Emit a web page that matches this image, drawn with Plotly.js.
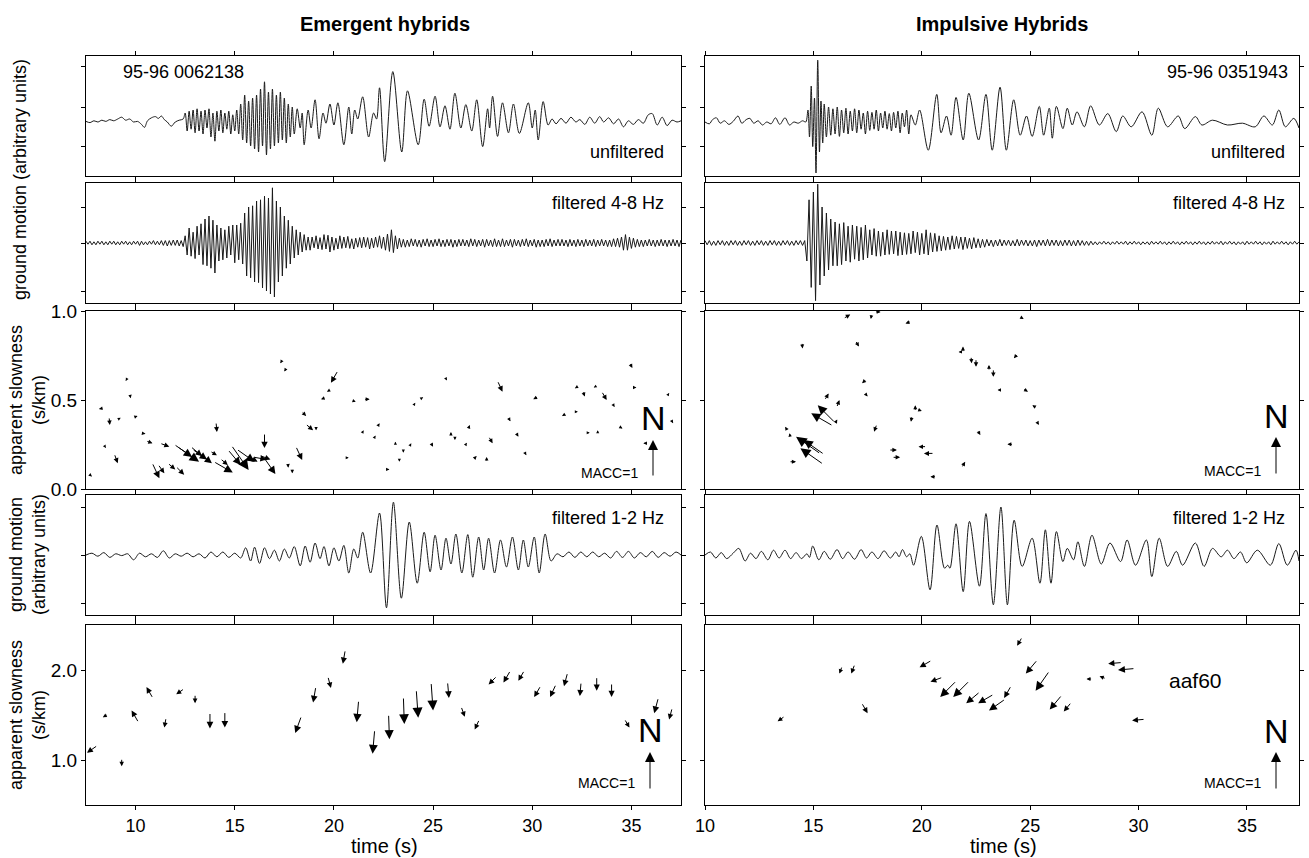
<!DOCTYPE html>
<html><head><meta charset="utf-8">
<script src="https://cdn.plot.ly/plotly-3.0.1.min.js"></script>
<style>html,body{margin:0;padding:0;background:#fff}#chart{width:1309px;height:858px}</style>
</head><body><div id="chart"></div>
<script>
// ---------------- DATA ----------------
const columnTitles = ['Emergent hybrids', 'Impulsive Hybrids'];
const eventIds = ['95-96 0062138', '95-96 0351943'];
const timeTicks = [10, 15, 20, 25, 30, 35];
const slowTicksHi = [0, 0.5, 1.0];
const slowTicksLo = [1.0, 2.0];

// Emergent: unfiltered trace, extrema [time s, amplitude]
const emRaw = [[7.5,-0.09],[7.7,-0.11],[7.9,-0.08],[8.1,-0.1],[8.3,-0.07],[8.5,-0.09],[8.7,-0.06],[8.9,-0.08],[9.1,-0.05],[9.3,-0.02],[9.5,-0.07],[9.7,-0.05],[9.9,-0.1],[10.1,-0.09],[10.3,-0.14],[10.45,-0.19],[10.6,-0.08],[10.8,-0.03],[11.0,-0.01],[11.15,-0.04],[11.3,0.0],[11.45,-0.06],[11.6,-0.1],[11.8,-0.17],[12.0,-0.1],[12.2,-0.07],[12.4,-0.05],
[12.5,0.05],[12.6,-0.25],[12.7,0.08],[12.8,-0.22],[12.9,0.1],[13.0,-0.28],[13.1,0.12],[13.2,-0.25],[13.3,0.08],[13.4,-0.3],[13.5,0.1],[13.6,-0.2],[13.7,0.12],[13.8,-0.35],[13.9,0.05],[14.0,-0.42],[14.1,0.08],[14.2,-0.25],[14.3,0.1],[14.4,-0.28],[14.5,0.05],[14.6,-0.22],[14.7,0.08],[14.8,-0.3],[14.9,0.02],[15.0,-0.25],[15.1,0.1],[15.2,-0.3],[15.3,0.2],[15.4,-0.4],[15.5,0.35],[15.6,-0.45],[15.7,0.25],[15.8,-0.5],[15.9,0.3],[16.0,-0.55],[16.1,0.35],[16.2,-0.6],[16.3,0.45],[16.4,-0.5],[16.5,0.57],[16.6,-0.65],[16.7,0.4],[16.8,-0.55],[16.9,0.45],[17.0,-0.5],[17.1,0.35],[17.2,-0.45],[17.3,0.4],[17.4,-0.4],[17.5,0.3],[17.6,-0.45],[17.7,0.2],[17.8,-0.35],[17.9,0.15],[18.0,-0.3],[18.15,0.12],[18.3,-0.2],[18.4,0.05],
[18.5,-0.48],[18.7,0.1],[18.85,-0.2],[19.05,0.27],[19.25,-0.38],[19.45,0.05],[19.6,-0.12],[19.8,0.2],[20.0,-0.15],[20.2,0.22],[20.5,-0.48],[20.75,0.15],[20.9,-0.3],[21.05,0.1],[21.2,-0.05],[21.45,0.32],[21.75,-0.35],[22.0,0.05],[22.15,-0.05],[22.3,0.47],[22.56,-0.76],[22.97,0.74],[23.42,-0.6],[23.71,0.42],[24.25,-0.48],[24.55,0.28],[24.8,-0.17],[25.1,0.33],[25.35,-0.18],[25.6,0.17],[25.85,-0.22],[26.1,0.38],[26.4,-0.2],[26.65,0.19],[26.95,-0.25],[27.2,0.27],[27.5,-0.51],[27.75,0.12],[27.85,-0.2],[28.0,0.33],[28.25,-0.34],[28.5,0.22],[28.8,-0.28],[29.05,0.2],[29.35,-0.29],[29.8,0.22],[30.0,-0.2],[30.15,0.1],[30.3,-0.4],[30.55,0.24],[30.8,-0.15],[31.0,-0.05],[31.2,-0.13],[31.45,-0.04],[31.7,-0.12],[31.95,-0.02],[32.2,-0.1],[32.4,-0.06],[32.65,-0.14],[32.9,-0.02],[33.15,-0.12],[33.4,-0.01],[33.6,-0.1],[33.85,-0.03],[34.1,-0.13],[34.35,-0.05],[34.6,-0.18],[34.85,-0.08],[35.1,-0.14],[35.35,-0.06],[35.6,-0.12],[35.85,0.02],[36.05,0.04],[36.3,-0.15],[36.55,-0.02],[36.8,-0.16],[37.05,-0.07],[37.3,-0.1],[37.5,-0.08]];

// Emergent: 4-8 Hz trace, successive half-cycle values every 0.1 s from 7.5 s
const emHighStart = 7.5;
const emHighStep = 0.1;
const emHigh = [0.03,-0.02,0.03,-0.03,0.02,-0.03,0.03,-0.02,0.03,-0.03,
0.02,-0.03,0.03,-0.02,0.03,-0.03,0.02,-0.03,0.03,-0.02,
0.03,-0.03,0.02,-0.03,0.03,-0.02,0.03,-0.04,0.03,-0.03,
0.02,-0.03,0.03,-0.02,0.04,-0.03,0.03,-0.03,0.04,-0.04,
0.04,-0.05,0.04,-0.04,0.05,-0.04,0.05,-0.05,0.04,-0.06,
0.12,-0.2,0.25,-0.22,0.18,-0.26,0.28,-0.2,0.32,-0.36,
0.4,-0.38,0.45,-0.42,0.38,-0.5,0.3,-0.3,0.25,-0.28,
0.22,-0.25,0.28,-0.2,0.3,-0.33,0.3,-0.28,0.33,-0.35,
0.5,-0.55,0.6,-0.58,0.62,-0.65,0.7,-0.66,0.72,-0.75,
0.78,-0.8,0.75,-0.85,0.92,-0.9,0.7,-0.65,0.6,-0.55,
0.45,-0.42,0.38,-0.35,0.28,-0.25,0.22,-0.2,0.18,-0.15,
0.14,-0.12,0.1,-0.12,0.1,-0.08,0.12,-0.1,0.09,-0.11,
0.14,-0.1,0.13,-0.15,0.1,-0.12,0.08,-0.1,0.12,-0.09,
0.1,-0.08,0.11,-0.09,0.07,-0.1,0.08,-0.07,0.09,-0.08,
0.1,-0.07,0.09,-0.1,0.08,-0.08,0.1,-0.07,0.12,-0.09,
0.1,-0.12,0.15,-0.14,0.22,-0.16,0.12,-0.1,0.08,-0.07,
0.06,-0.07,0.05,-0.06,0.07,-0.05,0.06,-0.06,0.05,-0.07,
0.06,-0.05,0.07,-0.06,0.05,-0.06,0.06,-0.05,0.07,-0.06,
0.05,-0.06,0.06,-0.05,0.06,-0.07,0.05,-0.06,0.06,-0.05,
0.06,-0.05,0.05,-0.06,0.07,-0.05,0.06,-0.06,0.05,-0.05,
0.06,-0.07,0.06,-0.05,0.05,-0.06,0.07,-0.06,0.05,-0.06,
0.07,-0.06,0.05,-0.05,0.06,-0.07,0.06,-0.05,0.05,-0.06,
0.06,-0.05,0.07,-0.06,0.05,-0.05,0.06,-0.07,0.05,-0.06,
0.05,-0.06,0.06,-0.05,0.07,-0.06,0.05,-0.05,0.06,-0.05,
0.06,-0.05,0.05,-0.06,0.06,-0.05,0.05,-0.06,0.06,-0.05,
0.05,-0.06,0.06,-0.05,0.05,-0.05,0.06,-0.06,0.05,-0.05,
0.06,-0.05,0.05,-0.06,0.05,-0.06,0.07,-0.06,0.08,-0.07,
0.1,-0.12,0.14,-0.12,0.1,-0.09,0.08,-0.07,0.06,-0.06,
0.05,-0.06,0.05,-0.05,0.06,-0.05,0.05,-0.06,0.05,-0.05,
0.06,-0.05,0.05,-0.06,0.05,-0.05,0.06,-0.05,0.05,-0.06,0.05];

// Emergent: 1-2 Hz trace, extrema [time s, amplitude]
const emLow = [[7.5,0.0],[7.8,0.03],[8.1,-0.02],[8.4,0.04],[8.7,-0.04],[9.0,0.02],[9.3,-0.01],[9.6,0.02],[9.9,-0.08],[10.2,0.03],[10.5,-0.03],[10.8,0.02],[11.1,-0.04],[11.4,0.07],[11.7,-0.05],[12.0,0.02],[12.3,-0.02],[12.6,0.03],[12.9,-0.03],[13.2,0.02],[13.5,-0.05],[13.8,0.05],[14.1,-0.03],[14.4,0.05],[14.7,-0.04],[15.0,0.03],
[15.3,-0.05],[15.55,0.12],[15.8,-0.1],[16.0,0.13],[16.25,-0.14],[16.5,0.12],[16.75,-0.06],[17.0,0.08],[17.25,-0.1],[17.5,0.1],[17.75,-0.05],[18.0,0.14],[18.3,-0.18],[18.55,0.15],[18.8,-0.12],[19.05,0.2],[19.3,-0.06],[19.5,0.14],[19.75,-0.18],[20.0,0.12],[20.25,-0.1],[20.5,0.16],[20.75,-0.3],[21.0,0.1],[21.2,-0.05],[21.45,0.38],[21.85,-0.3],[22.3,0.7],[22.65,-0.88],[23.0,0.88],[23.4,-0.72],[23.8,0.55],[24.2,-0.47],[24.55,0.38],[24.85,-0.28],[25.1,0.33],[25.4,-0.25],[25.65,0.28],[25.9,-0.15],[26.15,0.35],[26.45,-0.3],[26.75,0.34],[27.0,-0.37],[27.3,0.3],[27.55,-0.25],[27.8,0.28],[28.1,-0.3],[28.4,0.25],[28.7,-0.2],[29.0,0.3],[29.3,-0.25],[29.55,0.25],[29.8,-0.2],[30.1,0.3],[30.35,-0.3],[30.65,0.35],[30.95,-0.1],[31.25,0.02],[31.55,-0.03],[31.85,0.05],[32.15,-0.04],[32.45,0.05],[32.75,-0.03],[33.05,0.05],[33.35,-0.03],[33.65,0.03],[33.95,-0.05],[34.25,0.06],[34.55,-0.04],[34.85,0.06],[35.15,-0.05],[35.45,0.04],[35.75,-0.03],[36.05,0.06],[36.35,-0.04],[36.65,0.04],[36.95,-0.02],[37.25,0.05],[37.5,0.0]];

// Impulsive: unfiltered trace, extrema [time s, amplitude]
const imRaw = [[10.0,-0.1],[10.2,-0.13],[10.35,-0.06],[10.53,-0.03],[10.7,-0.12],[10.9,-0.08],[11.1,-0.14],[11.3,-0.09],[11.52,0.0],[11.7,-0.12],[11.9,-0.06],[12.07,-0.04],[12.25,-0.12],[12.45,-0.08],[12.65,-0.15],[12.85,-0.1],[13.05,-0.13],[13.25,-0.03],[13.45,-0.14],[13.69,-0.03],[13.9,-0.15],[14.1,-0.1],[14.3,-0.12],[14.5,-0.08],[14.65,-0.1],
[14.75,0.1],[14.82,-0.35],[14.9,0.5],[14.97,-0.51],[15.05,0.3],[15.12,-0.95],[15.2,0.93],[15.28,-0.6],[15.35,0.25],[15.43,-0.45],[15.5,0.2],
[15.6,-0.35],[15.7,0.15],[15.8,-0.32],[15.9,0.12],[16.0,-0.3],[16.1,0.15],[16.2,-0.34],[16.3,0.1],[16.4,-0.28],[16.5,0.13],[16.6,-0.3],[16.7,0.08],[16.8,-0.25],[16.9,0.12],[17.0,-0.28],[17.1,0.1],[17.2,-0.22],[17.3,0.05],[17.4,-0.3],[17.5,0.08],[17.6,-0.24],[17.7,0.06],[17.8,-0.22],[17.9,0.1],[18.0,-0.25],[18.1,0.05],[18.2,-0.2],[18.3,0.08],[18.4,-0.22],[18.5,0.04],[18.6,-0.25],[18.7,0.06],[18.8,-0.2],[18.9,0.08],[19.0,-0.28],[19.1,0.05],[19.2,-0.18],[19.3,0.1],[19.4,-0.3],[19.5,0.02],
[19.7,-0.15],[19.9,0.1],[20.3,-0.57],[20.69,0.36],[20.89,-0.28],[21.14,0.0],[21.35,-0.32],[21.58,0.31],[21.91,-0.4],[22.17,0.38],[22.62,-0.4],[22.96,0.36],[23.25,-0.57],[23.61,0.48],[23.9,-0.57],[24.24,0.27],[24.54,-0.32],[24.83,0.0],[25.09,-0.34],[25.42,0.16],[25.62,-0.32],[25.88,0.13],[26.02,-0.37],[26.21,0.16],[26.51,-0.21],[26.71,0.13],[26.94,-0.15],[27.16,0.07],[27.5,-0.18],[27.79,0.17],[28.19,-0.15],[28.58,0.04],[28.97,-0.26],[29.27,0.0],[29.66,-0.18],[30.16,0.07],[30.61,-0.32],[30.91,0.13],[31.34,-0.18],[31.83,0.0],[32.13,-0.21],[32.62,-0.01],[32.92,-0.15],[33.41,-0.07],[34.1,-0.15],[34.79,-0.12],[35.38,-0.18],[35.78,0.0],[36.17,-0.15],[36.47,0.1],[36.77,-0.18],[37.16,-0.04],[37.4,-0.2]];

// Impulsive: 4-8 Hz trace, successive half-cycle values every 0.1 s from 10 s
const imHighStart = 10.0;
const imHighStep = 0.1;
const imHigh = [0.04,-0.03,0.04,-0.04,0.03,-0.04,0.04,-0.03,0.04,-0.04,
0.03,-0.04,0.04,-0.03,0.04,-0.04,0.03,-0.04,0.04,-0.03,
0.04,-0.04,0.03,-0.04,0.04,-0.03,0.04,-0.04,0.03,-0.04,
0.04,-0.03,0.04,-0.04,0.03,-0.04,0.04,-0.03,0.04,-0.04,
0.03,-0.04,0.04,-0.03,0.04,-0.04,0.04,-0.3,0.72,-0.74,
0.85,-0.96,0.98,-0.7,0.6,-0.55,0.5,-0.45,0.4,-0.38,
0.35,-0.38,0.32,-0.36,0.34,-0.3,0.28,-0.32,0.3,-0.27,
0.28,-0.3,0.26,-0.28,0.3,-0.25,0.22,-0.2,0.24,-0.22,
0.2,-0.22,0.18,-0.2,0.22,-0.19,0.2,-0.18,0.2,-0.21,
0.18,-0.2,0.17,-0.19,0.16,-0.18,0.2,-0.16,0.18,-0.2,
0.16,-0.18,0.22,-0.2,0.17,-0.15,0.16,-0.14,0.12,-0.13,
0.11,-0.12,0.1,-0.11,0.12,-0.1,0.11,-0.09,0.1,-0.11,
0.1,-0.09,0.08,-0.1,0.09,-0.08,0.07,-0.08,0.06,-0.07,
0.06,-0.05,0.05,-0.06,0.05,-0.05,0.06,-0.05,0.05,-0.04,
0.05,-0.05,0.04,-0.05,0.06,-0.05,0.05,-0.04,0.05,-0.05,
0.04,-0.05,0.05,-0.06,0.05,-0.04,0.05,-0.05,0.06,-0.05,
0.05,-0.04,0.05,-0.05,0.04,-0.05,0.05,-0.04,0.05,-0.05,
0.04,-0.05,0.05,-0.04,0.04,-0.04,0.03,-0.04,0.03,-0.03,
0.02,-0.03,0.02,-0.02,0.03,-0.02,0.02,-0.03,0.02,-0.02,
0.03,-0.02,0.02,-0.02,0.03,-0.03,0.02,-0.02,0.03,-0.02,
0.02,-0.03,0.02,-0.02,0.02,-0.03,0.03,-0.02,0.02,-0.02,
0.03,-0.02,0.02,-0.03,0.02,-0.02,0.03,-0.02,0.02,-0.03,
0.02,-0.02,0.03,-0.02,0.02,-0.03,0.02,-0.02,0.03,-0.02,
0.02,-0.03,0.02,-0.02,0.03,-0.02,0.02,-0.02,0.03,-0.03,
0.02,-0.02,0.03,-0.02,0.02,-0.03,0.02,-0.02,0.02,-0.03,
0.03,-0.02,0.02,-0.02,0.03,-0.02,0.02,-0.03,0.02,-0.02,
0.02,-0.03,0.03,-0.02,0.02,-0.02,0.03,-0.02,0.02,-0.03,
0.02,-0.02,0.03,-0.02,0.02];

// Impulsive: 1-2 Hz trace, extrema [time s, amplitude]
const imLow = [[10.0,0.0],[10.25,0.05],[10.5,-0.05],[10.75,0.04],[11.0,-0.06],[11.3,0.03],[11.56,0.11],[11.85,-0.1],[12.1,0.03],[12.35,-0.06],[12.6,0.06],[12.9,-0.08],[13.16,0.08],[13.42,-0.05],[13.69,0.08],[13.95,-0.06],[14.2,0.04],[14.45,-0.06],[14.7,0.02],[14.82,-0.04],[14.97,0.15],[15.25,-0.08],[15.5,0.06],[15.78,-0.07],[16.09,0.09],[16.35,-0.06],[16.6,0.05],[16.9,-0.07],[17.2,0.09],[17.45,-0.05],[17.7,0.05],[17.98,-0.06],[18.26,0.07],[18.55,-0.05],[18.8,0.05],[18.95,-0.03],[19.11,0.09],[19.3,-0.03],[19.45,0.02],[19.62,-0.17],[19.98,0.31],[20.38,-0.58],[20.7,0.5],[21.05,-0.22],[21.2,-0.17],[21.3,-0.22],[21.58,0.52],[21.91,-0.61],[22.2,0.56],[22.66,-0.52],[22.96,0.69],[23.3,-0.83],[23.65,0.8],[23.95,-0.83],[24.26,0.58],[24.63,-0.19],[25.09,0.28],[25.45,-0.47],[25.7,0.42],[25.96,-0.47],[26.21,0.39],[26.51,-0.11],[26.71,0.11],[27.0,-0.08],[27.2,0.22],[27.5,-0.19],[27.85,0.33],[28.28,-0.15],[28.68,0.2],[29.17,-0.11],[29.47,0.25],[29.86,-0.17],[30.36,0.25],[30.61,-0.36],[30.95,0.28],[31.34,-0.19],[31.74,0.06],[32.03,-0.17],[32.62,0.2],[33.02,-0.19],[33.41,0.11],[33.81,-0.03],[34.1,0.08],[34.4,-0.06],[34.7,0.05],[34.99,-0.13],[35.48,0.08],[36.08,-0.17],[36.47,0.19],[36.86,-0.17],[37.26,0.08],[37.4,-0.1]];

// Slowness vectors: [time s, apparent slowness s/km, azimuth deg (clockwise from N), MACC-scaled length]
const emHiVec = [[9.5,0.607,210,3],[9.75,0.51,170,4],[8.15,0.45,260,5],[8.7,0.36,175,8],[9.25,0.40,60,3],[10.1,0.41,70,4],[8.5,0.23,150,3],[9.1,0.145,160,10],[7.8,0.07,130,4],[10.5,0.31,100,5],[10.85,0.257,110,7],[11.7,0.238,110,10],[11.2,0.06,155,17],[11.45,0.088,145,11],[12.0,0.11,130,10],[12.45,0.08,135,12],[13.2,0.153,125,26],[13.35,0.185,130,15],[13.85,0.144,128,18],[14.1,0.19,120,8],[14.9,0.092,120,22],[14.65,0.135,130,10],[15.7,0.107,145,30],[15.3,0.135,140,20],[16.5,0.23,180,15],[16.15,0.153,120,12],[17.05,0.084,145,20],[16.6,0.166,100,14],[14.1,0.32,175,10],[14.3,0.48,90,2],[17.3,0.706,210,4],[17.5,0.66,210,4],[19.85,0.597,210,14],[19.65,0.547,240,4],[19.35,0.504,250,5],[20.5,0.575,150,2],[21.1,0.49,110,4],[21.8,0.504,90,6],[21.3,0.43,150,2],[18.6,0.41,135,7],[18.95,0.33,130,10],[19.1,0.33,180,4],[18.4,0.163,155,15],[17.7,0.12,175,5],[17.9,0.088,180,5],[20.75,0.176,90,3],[21.5,0.33,30,3],[22.1,0.30,30,3],[22.3,0.37,30,4],[16.0,0.153,125,22],[16.8,0.166,110,12],[12.85,0.18,125,22],[13.6,0.166,125,18],
[25.3,0.67,150,2],[25.7,0.61,150,3],[25.5,0.54,60,2],[24.5,0.515,60,3],[24.1,0.485,30,3],[24.3,0.46,90,2],[26.5,0.487,90,2],[23.65,0.35,0,2],[23.1,0.266,0,3],[23.5,0.204,180,3],[23.3,0.153,180,3],[22.8,0.11,90,4],[23.9,0.257,30,3],[25.0,0.238,150,5],[25.9,0.32,0,4],[26.35,0.36,200,2],[26.85,0.36,20,5],[26.1,0.275,180,4],[26.7,0.26,30,3],[27.2,0.185,45,5],[27.7,0.18,0,5],[28.0,0.257,150,8],[28.5,0.547,155,12],[28.9,0.38,150,5],[29.3,0.294,150,5],[29.7,0.19,150,4],[30.05,0.504,240,6],[30.5,0.515,90,2],[31.05,0.5,90,2],[30.7,0.39,90,2],[30.9,0.34,90,2],[31.5,0.41,240,5],[31.9,0.5,90,2],[32.15,0.566,240,4],[32.3,0.434,90,3],[32.65,0.52,160,6],[33.1,0.57,240,3],[33.75,0.5,150,10],[34.15,0.46,150,4],[32.9,0.316,90,3],[33.3,0.33,0,3],[34.55,0.34,120,4],[35.05,0.68,150,6],[35.25,0.57,90,4],[36.3,0.584,90,2],[36.7,0.49,90,2],[36.9,0.54,30,3],[37.1,0.37,150,4],[35.6,0.257,270,5]];

const imHiVec = [[16.7,0.98,60,8],[17.65,0.955,190,5],[18.1,0.995,90,6],[19.25,0.93,250,6],[22.95,0.97,0,2],[24.7,0.955,120,5],[14.5,0.79,175,6],[17.1,0.8,150,7],[21.9,0.8,0,6],[21.7,0.77,270,4],[22.3,0.706,175,7],[22.5,0.687,180,8],[23.1,0.697,0,6],[23.3,0.63,180,8],[24.25,0.734,220,6],[17.25,0.594,225,6],[17.5,0.52,140,5],[23.5,0.556,270,4],[24.9,0.547,120,6],[25.1,0.47,300,5],[15.7,0.537,30,8],[16.2,0.5,20,8],[15.2,0.47,315,25],[14.9,0.425,300,25],[16.1,0.39,30,5],[19.7,0.47,0,6],[20.0,0.438,110,5],[19.5,0.378,190,6],[17.8,0.322,200,8],[13.7,0.35,330,5],[13.9,0.313,350,4],[14.2,0.294,305,30],[14.55,0.275,305,25],[14.4,0.229,305,28],[14.2,0.153,90,7],[22.7,0.303,150,6],[23.95,0.251,270,6],[18.85,0.219,90,8],[19.0,0.178,90,8],[19.85,0.238,270,8],[20.1,0.2,270,10],[22.0,0.153,30,7],[20.4,0.069,270,6],[25.4,0.36,150,5]];

const emLoVec = [[7.55,1.08,235,13],[8.35,1.475,240,6],[9.3,0.93,180,8],[9.8,1.55,330,14],[10.55,1.81,330,13],[11.45,1.36,190,10],[12.05,1.73,235,10],[13.0,1.63,180,9],[13.75,1.35,180,16],[14.5,1.36,180,16],[18.05,1.30,200,18],[18.95,1.64,190,16],[19.85,1.80,165,12],[20.45,2.07,190,14],[21.15,1.42,185,22],[21.95,1.07,185,24],[22.8,1.23,178,25],[23.55,1.40,178,27],[24.25,1.47,176,28],[25.0,1.55,176,28],[25.8,1.69,175,16],[26.6,1.48,160,11],[27.1,1.34,205,11],[27.8,1.84,225,12],[28.55,1.86,210,14],[29.3,1.88,210,12],[30.1,1.70,210,13],[30.9,1.70,205,14],[31.6,1.82,195,14],[32.4,1.71,185,14],[33.25,1.77,180,14],[34.0,1.70,180,14],[34.9,1.36,150,10],[36.15,1.52,195,16],[36.9,1.45,195,12]];

const imLoVec = [[13.35,1.43,235,9],[16.2,1.96,200,8],[16.75,1.96,200,10],[17.5,1.52,150,12],[19.9,2.03,240,14],[20.4,1.87,250,13],[20.85,1.70,225,23],[21.45,1.70,225,23],[22.05,1.63,230,18],[22.6,1.63,240,18],[23.1,1.55,235,20],[23.8,1.69,210,14],[24.4,2.27,210,10],[24.8,1.96,220,18],[25.25,1.77,215,24],[25.9,1.56,220,19],[26.55,1.54,220,12],[27.6,1.90,270,6],[28.2,1.93,290,7],[28.6,2.07,265,14],[29.05,2.0,265,17],[29.7,1.44,265,13]];

// ---------------- LAYOUT / DRAWING ----------------
const W = 1309, H = 858;
const FONT = 'Liberation Sans, Arial, sans-serif';
const NARROW = 'Liberation Sans Narrow, Liberation Sans, Arial, sans-serif';
const colPx = [[86, 681], [705, 1299]];
const rowPx = [[56, 176], [183, 303], [311, 489], [495, 615], [625, 805]];
const xRanges = [[7.5, 37.5], [10, 37.4]];
const yRanges = [[-1, 1], [-1, 1], [0, 1], [-1, 1], [0.5, 2.5]];
const yTickPos = [[-0.5, 0.15, 0.83], [-0.8, 0, 0.6], slowTicksHi, [-0.8, 0, 0.8], slowTicksLo];
const px = x => x / W, py = y => 1 - y / H;

function sfx(c, r) { const i = c * 5 + r + 1; return i === 1 ? '' : String(i); }

const layout = {
  width: W, height: H, margin: {l: 0, r: 0, t: 0, b: 0},
  paper_bgcolor: '#fff', plot_bgcolor: '#fff', showlegend: false, hovermode: false,
  font: {family: FONT, color: '#000'}, annotations: []
};

for (let c = 0; c < 2; c++) {
  for (let r = 0; r < 5; r++) {
    const s = sfx(c, r);
    layout['xaxis' + s] = {
      domain: [px(colPx[c][0]), px(colPx[c][1])], range: xRanges[c], anchor: 'y' + s,
      tickmode: 'array', tickvals: timeTicks, ticktext: timeTicks.map(String),
      showticklabels: r === 4, ticks: 'outside', ticklen: 4, tickwidth: 1, tickcolor: '#000',
      showline: true, linecolor: '#000', linewidth: 1, mirror: 'ticks',
      showgrid: false, zeroline: false, tickfont: {size: 18, family: FONT}
    };
    const isSlow = (r === 2 || r === 4);
    layout['yaxis' + s] = {
      domain: [py(rowPx[r][1]), py(rowPx[r][0])], range: yRanges[r], anchor: 'x' + s,
      tickmode: 'array', tickvals: yTickPos[r], ticktext: yTickPos[r].map(v => v.toFixed(1)),
      showticklabels: c === 0 && isSlow, ticks: 'outside', ticklen: 4, tickwidth: 1, tickcolor: '#000',
      showline: true, linecolor: '#000', linewidth: 1, mirror: 'ticks',
      showgrid: false, zeroline: false, tickfont: {size: 19, family: FONT}
    };
  }
}

const traces = [];
function addPairs(pts, c, r, shape) {
  const s = sfx(c, r);
  traces.push({type: 'scatter', mode: 'lines', x: pts.map(p => p[0]), y: pts.map(p => p[1]),
    xaxis: 'x' + s, yaxis: 'y' + s, line: {color: '#1a1a1a', width: 1, shape: shape, smoothing: 0.9},
    hoverinfo: 'skip'});
}
function addSampled(vals, t0, dt, c, r) {
  const s = sfx(c, r);
  traces.push({type: 'scatter', mode: 'lines', x: vals.map((v, i) => t0 + i * dt), y: vals,
    xaxis: 'x' + s, yaxis: 'y' + s, line: {color: '#1a1a1a', width: 1}, hoverinfo: 'skip'});
}
addPairs(emRaw, 0, 0, 'spline');
addSampled(emHigh, emHighStart, emHighStep, 0, 1);
addPairs(emLow, 0, 3, 'spline');
addPairs(imRaw, 1, 0, 'spline');
addSampled(imHigh, imHighStart, imHighStep, 1, 1);
addPairs(imLow, 1, 3, 'spline');

// slowness vectors as arrows
function addVectors(vecs, c, r) {
  const s = sfx(c, r);
  vecs.forEach(v => {
    const a = v[2] * Math.PI / 180, L = v[3];
    layout.annotations.push({
      x: v[0], y: v[1], xref: 'x' + s, yref: 'y' + s, text: '', showarrow: true,
      arrowhead: 2, arrowsize: 0.45 + L / 18, arrowwidth: 1,
      arrowcolor: '#000', standoff: 0,
      ax: -L * Math.sin(a), ay: L * Math.cos(a), axref: 'pixel', ayref: 'pixel'
    });
  });
}
addVectors(emHiVec, 0, 2);
addVectors(imHiVec, 1, 2);
addVectors(emLoVec, 0, 4);
addVectors(imLoVec, 1, 4);

function txt(text, x, y, size, xanchor, extra) {
  layout.annotations.push(Object.assign({text: text, x: px(x), y: py(y), xref: 'paper', yref: 'paper',
    showarrow: false, xanchor: xanchor || 'center', yanchor: 'middle',
    font: {size: size, family: FONT, color: '#000'}}, extra || {}));
}
// column titles
txt('<b>' + columnTitles[0] + '</b>', 385, 24, 20);
txt('<b>' + columnTitles[1] + '</b>', 1002, 24, 20);
// event ids and panel labels
txt(eventIds[0], 121, 72, 18, 'left');
txt(eventIds[1], 1290, 72, 18, 'right');
txt('unfiltered', 666, 152, 18, 'right');
txt('unfiltered', 1287, 152, 18, 'right');
txt('filtered 4-8 Hz', 666, 203, 18, 'right');
txt('filtered 4-8 Hz', 1287, 203, 18, 'right');
txt('filtered 1-2 Hz', 666, 518, 18, 'right');
txt('filtered 1-2 Hz', 1287, 518, 18, 'right');
txt('aaf60', 1195, 680, 21);
// axis titles
txt('time (s)', 384, 846, 20);
txt('time (s)', 1003, 846, 20);
txt('ground motion (arbitrary units)', 20, 180, 18, 'center', {textangle: -90});
txt('apparent slowness<br>(s/km)', 27, 400, 18, 'center', {textangle: -90});
txt('ground motion<br>(arbitrary units)', 27, 555, 18, 'center', {textangle: -90});
txt('apparent slowness<br>(s/km)', 27, 715, 18, 'center', {textangle: -90});

// north arrows with MACC=1 reference
function north(xN, yN, yHead, yTail, xM, yM) {
  layout.annotations.push({text: 'N', x: px(xN), y: py(yN), xref: 'paper', yref: 'paper', showarrow: false,
    xanchor: 'center', yanchor: 'middle', font: {size: 34, family: NARROW, color: '#000'}});
  layout.annotations.push({text: '', x: px(xN), y: py(yHead), xref: 'paper', yref: 'paper', showarrow: true,
    arrowhead: 2, arrowsize: 2, arrowwidth: 1, arrowcolor: '#000', standoff: 0,
    ax: 0, ay: yTail - yHead, axref: 'pixel', ayref: 'pixel'});
  layout.annotations.push({text: 'MACC=1', x: px(xM), y: py(yM), xref: 'paper', yref: 'paper', showarrow: false,
    xanchor: 'center', yanchor: 'middle', font: {size: 14, family: FONT, color: '#000'}});
}
north(653, 418, 440, 477, 609, 473);
north(1276, 416, 437, 475, 1232, 471);
north(650, 730, 752, 790, 606, 783);
north(1276, 731, 752, 790, 1232, 783);

Plotly.newPlot('chart', traces, layout, {staticPlot: true, displayModeBar: false});
</script></body></html>
